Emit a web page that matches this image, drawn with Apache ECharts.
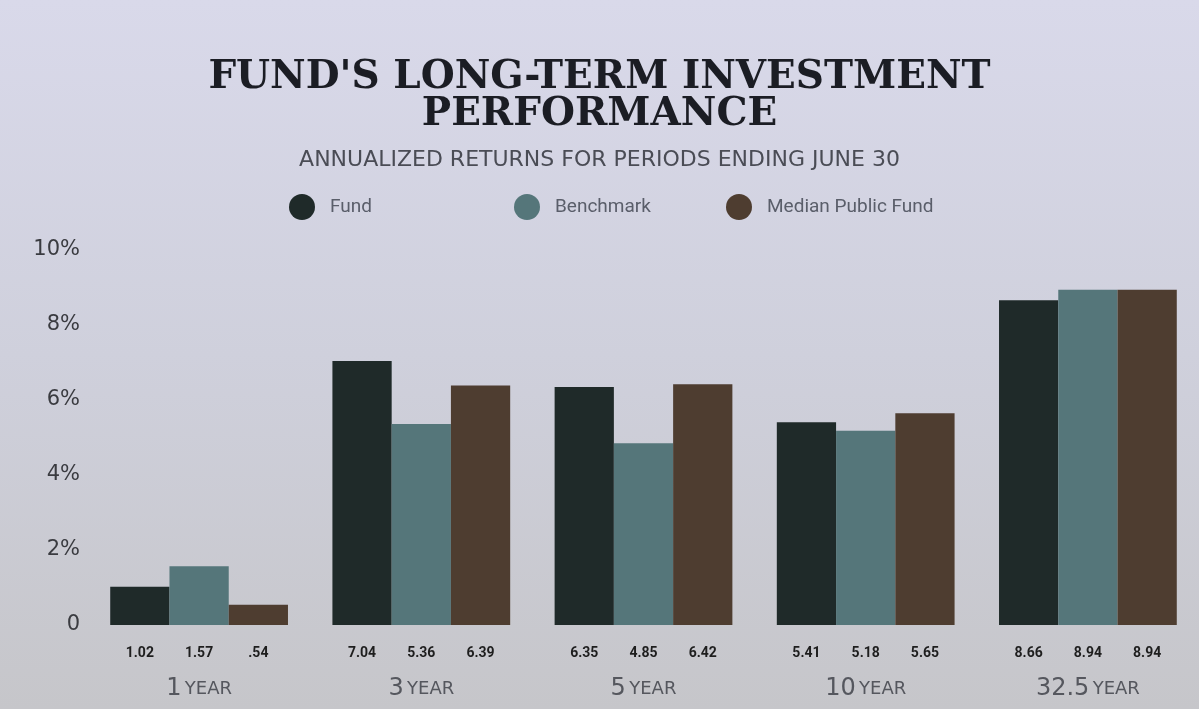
<!DOCTYPE html>
<html>
<head>
<meta charset="utf-8">
<script src="https://cdn.jsdelivr.net/npm/echarts@6/dist/echarts.min.js"></script>
<style>
  html, body { margin: 0; padding: 0; }
  #chart { width: 1199px; height: 709px; }
</style>
</head>
<body>
<div id="chart"></div>
<script>
// data
const periods = ['1 YEAR', '3 YEAR', '5 YEAR', '10 YEAR', '32.5 YEAR'];
const fund = [1.02, 7.04, 6.35, 5.41, 8.66];
const benchmark = [1.57, 5.36, 4.85, 5.18, 8.94];
const medianPublic = [0.54, 6.39, 6.42, 5.65, 8.94];
const yTicks = [0, 2, 4, 6, 8, 10];

const sans = '"DejaVu Sans", sans-serif';
const condensed = '"Liberation Sans Narrow", "Roboto", sans-serif';

function valueLabel(p) {
  return p.value.toFixed(2).replace(/^0/, '');
}

function barSeries(name, data, color) {
  return {
    name: name,
    type: 'bar',
    data: data,
    barGap: 0,
    barCategoryGap: '20%',
    itemStyle: { color: color },
    label: {
      show: true,
      position: 'insideBottom',
      offset: [0, 40],
      formatter: valueLabel,
      color: '#1e1e1e',
      fontFamily: condensed,
      fontWeight: 'bold',
      fontSize: 14
    }
  };
}

const chart = echarts.init(document.getElementById('chart'));

const legendBase = {
  top: 189,
  icon: 'circle',
  itemWidth: 26,
  itemHeight: 26,
  textStyle: { color: '#5a5e6a', fontFamily: condensed, fontSize: 19, padding: [0, 0, 0, 10] }
};

chart.setOption({
  backgroundColor: {
    type: 'linear', x: 0, y: 0, x2: 0, y2: 1,
    colorStops: [
      { offset: 0, color: '#d9d9ea' },
      { offset: 0.5, color: '#cfd0dc' },
      { offset: 1, color: '#c6c6ca' }
    ]
  },
  color: ['#1f2a29', '#55767a', '#4e3d30'],
  title: [
    {
      text: "FUND'S LONG-TERM INVESTMENT\nPERFORMANCE",
      left: 'center',
      top: 54,
      textStyle: {
        fontFamily: '"DejaVu Serif", "Liberation Serif", serif',
        fontWeight: 'bold',
        fontSize: 39,
        lineHeight: 37,
        color: '#1b1d24'
      }
    },
    {
      text: 'ANNUALIZED RETURNS FOR PERIODS ENDING JUNE 30',
      left: 'center',
      top: 144,
      textStyle: {
        fontFamily: sans,
        fontWeight: 'normal',
        fontSize: 22,
        color: '#4a4c55'
      }
    }
  ],
  legend: [
    Object.assign({ left: 284, data: ['Fund'] }, legendBase),
    Object.assign({ left: 509, data: ['Benchmark'] }, legendBase),
    Object.assign({ left: 721, data: ['Median Public Fund'] }, legendBase)
  ],
  grid: { left: 88, right: 0, top: 250, bottom: 84 },
  xAxis: {
    type: 'category',
    data: periods,
    axisLine: { show: false },
    axisTick: { show: false },
    axisLabel: {
      margin: 52,
      formatter: function (v) {
        const parts = v.split(' ');
        return '{n|' + parts[0] + '} {y|' + parts[1] + '}';
      },
      rich: {
        n: { fontFamily: sans, fontSize: 24, color: '#55575e' },
        y: { fontFamily: sans, fontSize: 18, color: '#55575e' }
      }
    }
  },
  yAxis: {
    type: 'value',
    min: 0,
    max: 10,
    interval: 2,
    splitLine: { show: false },
    axisLine: { show: false },
    axisTick: { show: false },
    axisLabel: {
      margin: 8,
      formatter: function (v) { return yTicks.indexOf(v) > 0 ? v + '%' : '0'; },
      fontFamily: sans,
      fontSize: 21,
      color: '#3a3b40'
    }
  },
  series: [
    barSeries('Fund', fund, '#1f2a29'),
    barSeries('Benchmark', benchmark, '#55767a'),
    barSeries('Median Public Fund', medianPublic, '#4e3d30')
  ]
});
</script>
</body>
</html>
